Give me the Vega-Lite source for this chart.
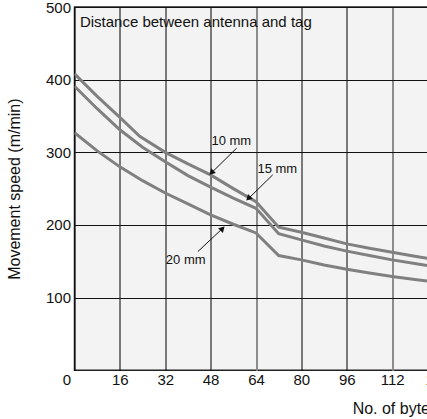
{
  "$schema": "https://vega.github.io/schema/vega-lite/v6.json",
  "autosize": "none",
  "padding": {"left": 74.5, "top": 7, "right": 0, "bottom": 48.7},
  "width": 363,
  "height": 363.3,
  "background": "white",
  "config": {
    "font": "Liberation Sans",
    "view": {"fill": "#f2f3f2", "stroke": "#222222", "strokeWidth": 1.5}
  },
  "datasets": {
    "curves": [
      {"bytes": 0, "speed": 408, "distance": "10 mm"},
      {"bytes": 8, "speed": 377, "distance": "10 mm"},
      {"bytes": 16, "speed": 348, "distance": "10 mm"},
      {"bytes": 23, "speed": 322, "distance": "10 mm"},
      {"bytes": 32, "speed": 300, "distance": "10 mm"},
      {"bytes": 40, "speed": 284, "distance": "10 mm"},
      {"bytes": 48, "speed": 269, "distance": "10 mm"},
      {"bytes": 56, "speed": 250, "distance": "10 mm"},
      {"bytes": 64, "speed": 232, "distance": "10 mm"},
      {"bytes": 72, "speed": 197, "distance": "10 mm"},
      {"bytes": 80, "speed": 190, "distance": "10 mm"},
      {"bytes": 88, "speed": 182, "distance": "10 mm"},
      {"bytes": 96, "speed": 174, "distance": "10 mm"},
      {"bytes": 104, "speed": 168, "distance": "10 mm"},
      {"bytes": 112, "speed": 162.5, "distance": "10 mm"},
      {"bytes": 120, "speed": 157, "distance": "10 mm"},
      {"bytes": 128, "speed": 152, "distance": "10 mm"},
      {"bytes": 0, "speed": 391, "distance": "15 mm"},
      {"bytes": 8, "speed": 360, "distance": "15 mm"},
      {"bytes": 16, "speed": 331, "distance": "15 mm"},
      {"bytes": 24, "speed": 307, "distance": "15 mm"},
      {"bytes": 32, "speed": 287, "distance": "15 mm"},
      {"bytes": 40, "speed": 268, "distance": "15 mm"},
      {"bytes": 48, "speed": 252, "distance": "15 mm"},
      {"bytes": 56, "speed": 237, "distance": "15 mm"},
      {"bytes": 64, "speed": 223, "distance": "15 mm"},
      {"bytes": 72, "speed": 188, "distance": "15 mm"},
      {"bytes": 80, "speed": 179.5, "distance": "15 mm"},
      {"bytes": 88, "speed": 171, "distance": "15 mm"},
      {"bytes": 96, "speed": 164, "distance": "15 mm"},
      {"bytes": 104, "speed": 158, "distance": "15 mm"},
      {"bytes": 112, "speed": 152, "distance": "15 mm"},
      {"bytes": 120, "speed": 147, "distance": "15 mm"},
      {"bytes": 128, "speed": 142, "distance": "15 mm"},
      {"bytes": 0, "speed": 327, "distance": "20 mm"},
      {"bytes": 8, "speed": 302, "distance": "20 mm"},
      {"bytes": 16, "speed": 280, "distance": "20 mm"},
      {"bytes": 24, "speed": 261, "distance": "20 mm"},
      {"bytes": 32, "speed": 244, "distance": "20 mm"},
      {"bytes": 40, "speed": 229, "distance": "20 mm"},
      {"bytes": 48, "speed": 214, "distance": "20 mm"},
      {"bytes": 56, "speed": 201, "distance": "20 mm"},
      {"bytes": 64, "speed": 189, "distance": "20 mm"},
      {"bytes": 72, "speed": 158, "distance": "20 mm"},
      {"bytes": 80, "speed": 152, "distance": "20 mm"},
      {"bytes": 88, "speed": 145, "distance": "20 mm"},
      {"bytes": 96, "speed": 139, "distance": "20 mm"},
      {"bytes": 104, "speed": 134, "distance": "20 mm"},
      {"bytes": 112, "speed": 129, "distance": "20 mm"},
      {"bytes": 120, "speed": 125, "distance": "20 mm"},
      {"bytes": 128, "speed": 121, "distance": "20 mm"}
    ],
    "labels": [
      {"label": "10 mm", "x": 55.3, "y": 315},
      {"label": "15 mm", "x": 71.5, "y": 277.3},
      {"label": "20 mm", "x": 39.2, "y": 152}
    ],
    "arrows": [
      {"label": "10 mm", "x": 57.2, "y": 305.8, "x2": 47.9, "y2": 270.2, "hx": 48.3, "hy": 272, "dir": "down"},
      {"label": "15 mm", "x": 69.9, "y": 269, "x2": 60.9, "y2": 234.7, "hx": 61.3, "hy": 236.5, "dir": "down"},
      {"label": "20 mm", "x": 43.5, "y": 163.4, "x2": 52.6, "y2": 196.7, "hx": 52.2, "hy": 195, "dir": "up"}
    ],
    "note": [
      {"text": "Distance between antenna and tag", "x": 1.9, "y": 479.5}
    ]
  },
  "layer": [
    {
      "data": {"name": "curves"},
      "mark": {"type": "line", "color": "#808080", "strokeWidth": 3, "clip": true},
      "encoding": {
        "x": {
          "field": "bytes", "type": "quantitative",
          "scale": {"domain": [0, 128], "nice": false},
          "axis": {
            "values": [0, 16, 32, 48, 64, 80, 96, 112, 128],
            "title": "No. of bytes",
            "titleAnchor": "end",
            "titleFontSize": 16,
            "titleFontWeight": "normal",
            "titleColor": "#111111",
            "titlePadding": 13,
            "labelFontSize": 15,
            "labelColor": "#111111",
            "labelPadding": 2,
            "labelFlush": false,
            "labelOverlap": false,
            "labelOffset": {"condition": {"test": "datum.value == 0", "value": -8}, "value": 0},
            "ticks": false,
            "domain": false,
            "grid": true,
            "gridColor": {"condition": {"test": "datum.value == 64 || datum.value == 112", "value": "#8c8c8c"}, "value": "#000000"},
            "gridWidth": {"condition": {"test": "datum.value == 64 || datum.value == 112", "value": 2}, "value": 1},
            "gridOpacity": 1
          }
        },
        "y": {
          "field": "speed", "type": "quantitative",
          "scale": {"domain": [0, 500], "nice": false},
          "axis": {
            "values": [100, 200, 300, 400, 500],
            "title": "Movement speed (m/min)",
            "titleFontSize": 16,
            "titleFontWeight": "normal",
            "titleColor": "#111111",
            "titlePadding": 23,
            "labelFontSize": 15,
            "labelColor": "#111111",
            "labelPadding": 4,
            "ticks": false,
            "domain": false,
            "grid": true,
            "gridColor": "#111111",
            "gridWidth": 1,
            "gridOpacity": 1
          }
        },
        "detail": {"field": "distance", "type": "nominal"}
      }
    },
    {
      "data": {"name": "arrows"},
      "mark": {"type": "rule", "color": "#111111", "strokeWidth": 1},
      "encoding": {
        "x": {"field": "x", "type": "quantitative"},
        "y": {"field": "y", "type": "quantitative"},
        "x2": {"field": "x2"},
        "y2": {"field": "y2"}
      }
    },
    {
      "data": {"name": "arrows"},
      "transform": [{"filter": "datum.dir === 'down'"}],
      "mark": {"type": "point", "shape": "triangle-up", "filled": true, "color": "#111111", "size": 45, "angle": 225, "opacity": 1},
      "encoding": {
        "x": {"field": "hx", "type": "quantitative"},
        "y": {"field": "hy", "type": "quantitative"}
      }
    },
    {
      "data": {"name": "arrows"},
      "transform": [{"filter": "datum.dir === 'up'"}],
      "mark": {"type": "point", "shape": "triangle-up", "filled": true, "color": "#111111", "size": 45, "angle": 45, "opacity": 1},
      "encoding": {
        "x": {"field": "hx", "type": "quantitative"},
        "y": {"field": "hy", "type": "quantitative"}
      }
    },
    {
      "data": {"name": "labels"},
      "mark": {"type": "text", "fontSize": 13, "color": "#111111", "align": "center", "baseline": "middle"},
      "encoding": {
        "x": {"field": "x", "type": "quantitative"},
        "y": {"field": "y", "type": "quantitative"},
        "text": {"field": "label"}
      }
    },
    {
      "data": {"name": "note"},
      "mark": {"type": "text", "fontSize": 15, "color": "#111111", "align": "left", "baseline": "middle"},
      "encoding": {
        "x": {"field": "x", "type": "quantitative"},
        "y": {"field": "y", "type": "quantitative"},
        "text": {"field": "text"}
      }
    }
  ]
}
